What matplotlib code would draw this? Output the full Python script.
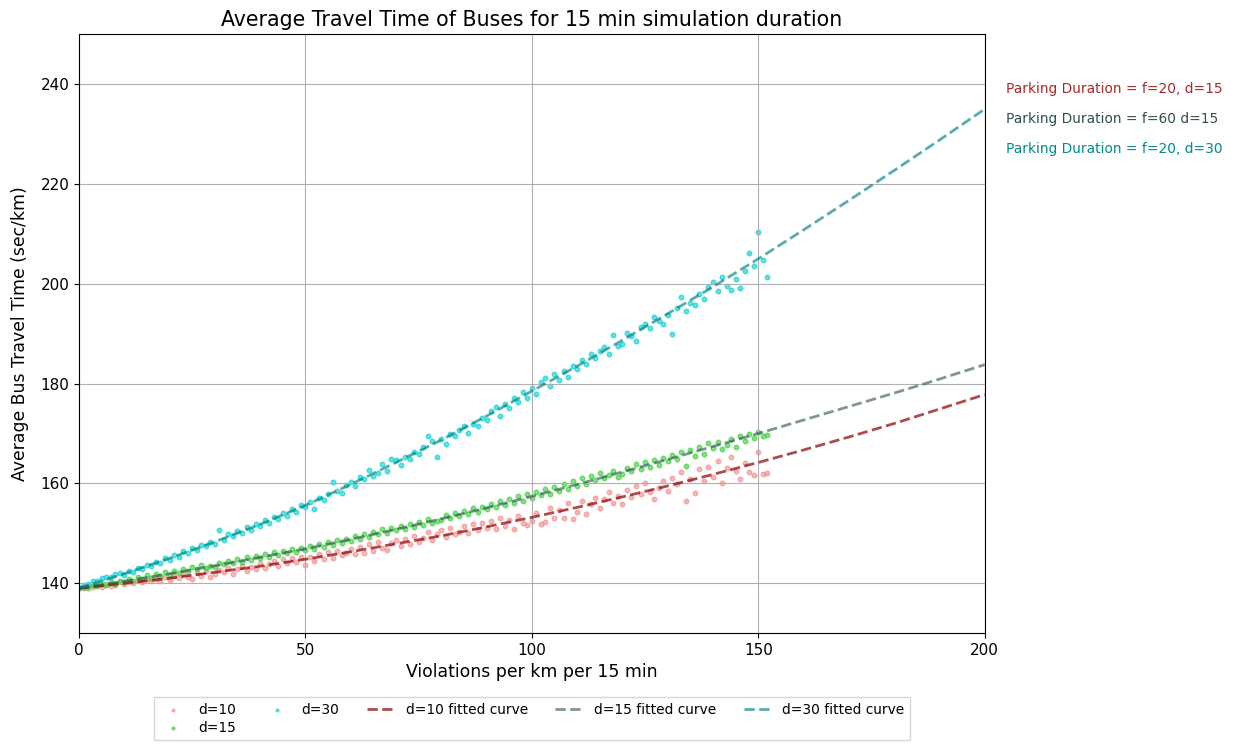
import matplotlib
matplotlib.use("Agg")
import matplotlib.pyplot as plt

# scatter data: violations per km (x) and average bus travel time (sec/km)
violations = list(range(0, 153))

time_d10 = [
    139.1, 139.0, 139.4, 139.2, 139.6, 139.3, 139.9, 139.5, 139.7, 140.2,
    139.8, 140.3, 140.1, 140.6, 140.2, 140.8, 140.4, 140.9, 140.5, 141.2,
    140.7, 141.4, 141.0, 141.8, 141.3, 140.9, 142.1, 141.5, 142.4, 141.2,
    141.8, 142.6, 142.2, 143.0, 141.9, 142.8, 143.5, 142.5, 143.2, 142.9,
    144.0, 143.1, 143.8, 144.4, 143.5, 144.9, 144.1, 145.0, 144.3, 145.3,
    143.6, 145.2, 144.5, 145.9, 144.9, 146.3, 145.0, 146.4, 145.6, 146.0,
    146.8, 145.8, 147.2, 146.1, 147.9, 146.5, 148.3, 147.0, 146.6, 148.0,
    148.6, 147.4, 148.9, 147.8, 149.5, 148.2, 149.0, 150.2, 148.6, 149.8,
    150.6, 149.2, 151.0, 149.8, 150.3, 151.4, 150.0, 151.8, 150.7, 152.0,
    151.0, 152.4, 150.8, 153.0, 151.5, 152.6, 150.9, 153.5, 152.1, 151.7,
    152.5, 154.1, 151.9, 152.3, 155.0, 153.1, 154.6, 153.0, 156.0, 152.8,
    154.3, 156.4, 153.9, 155.8, 157.0, 155.1, 156.9, 158.3, 156.0, 157.5,
    155.9, 158.6, 157.2, 159.5, 157.8, 160.0, 158.2, 156.9, 159.1, 160.4,
    158.5, 161.0, 159.8, 162.3, 156.5, 160.9, 158.1, 162.8, 160.4, 163.2,
    161.3, 164.5, 160.0, 163.0, 165.2, 162.5, 160.8, 164.0, 162.3, 161.6,
    166.2, 161.8, 162.1,
]

time_d15 = [
    139.0, 139.3, 139.1, 139.6, 139.4, 139.9, 139.7, 140.3, 139.8, 140.5,
    140.2, 140.8, 140.5, 141.2, 140.9, 141.6, 141.1, 141.9, 141.4, 142.2,
    141.7, 142.5, 142.0, 142.9, 142.4, 143.2, 142.8, 143.6, 143.0, 143.5,
    143.3, 144.1, 143.8, 144.5, 144.0, 144.9, 144.3, 145.2, 144.7, 145.5,
    145.0, 145.8, 145.3, 146.2, 145.7, 146.5, 146.0, 146.9, 146.3, 147.1,
    146.6, 147.4, 146.8, 147.9, 147.3, 148.2, 147.6, 148.7, 148.1, 148.9,
    148.5, 149.4, 148.9, 149.9, 149.3, 150.3, 149.8, 150.8, 150.1, 151.0,
    150.6, 151.5, 150.9, 151.9, 151.3, 152.3, 151.7, 152.8, 152.1, 152.5,
    152.7, 153.6, 153.0, 154.1, 153.4, 154.5, 153.9, 155.0, 154.3, 155.3,
    154.8, 155.9, 155.2, 156.4, 155.6, 156.9, 156.0, 157.5, 156.4, 157.8,
    157.0, 158.3, 157.6, 158.8, 157.9, 159.2, 158.5, 159.9, 158.9, 160.4,
    159.5, 161.0, 159.9, 161.4, 160.6, 162.0, 161.1, 161.6, 162.5, 161.3,
    161.9, 163.1, 162.4, 163.8, 162.8, 164.2, 163.3, 164.7, 163.6, 165.0,
    164.4, 165.6, 164.9, 166.2, 163.4, 166.7, 165.4, 167.3, 165.9, 168.1,
    167.0, 168.2, 166.8, 167.6, 168.9, 167.2, 169.4, 168.5, 169.9, 169.0,
    170.3, 169.6, 169.8,
]

time_d30 = [
    139.2, 139.6, 139.9, 140.4, 140.5, 141.0, 141.3, 141.2, 141.8, 142.0,
    141.6, 142.5, 142.2, 143.1, 142.9, 143.7, 143.4, 144.3, 144.0, 145.0,
    144.6, 145.6, 145.3, 146.4, 146.0, 147.0, 146.6, 147.7, 147.4, 148.2,
    147.9, 150.6, 148.6, 149.8, 149.4, 150.5, 150.0, 151.2, 150.7, 151.9,
    151.5, 152.6, 152.1, 153.3, 152.8, 154.1, 153.5, 154.9, 154.2, 155.6,
    155.3, 156.2, 154.9, 157.1, 156.6, 157.9, 160.2, 158.4, 158.1, 159.6,
    160.2, 159.4, 161.3, 160.8, 162.6, 161.5, 162.1, 163.9, 162.4, 164.8,
    164.7, 163.6, 165.3, 164.9, 166.2, 165.8, 167.3, 169.6, 168.5, 165.2,
    168.9, 167.8, 169.9, 169.4, 170.8, 171.6, 170.2, 172.0, 171.5, 173.2,
    172.8, 174.6, 175.3, 173.5, 176.0, 175.2, 177.1, 176.4, 178.3, 177.2,
    179.1, 178.0, 180.3, 181.2, 179.6, 182.0, 180.8, 182.5, 181.4, 183.6,
    182.9, 184.8, 184.0, 185.9, 185.2, 186.6, 187.4, 186.0, 189.8, 187.6,
    188.0, 190.1, 189.5, 188.6, 191.4, 192.0, 191.2, 193.4, 192.6, 192.0,
    193.7, 189.9, 195.1, 197.3, 194.6, 196.2, 195.8, 197.9, 196.9, 199.4,
    200.4, 198.6, 201.3, 199.6, 198.7, 201.0, 199.2, 202.5, 206.2, 203.6,
    210.4, 204.7, 201.3,
]

# fitted curves, every 10 violations
fit_x = [0, 10, 20, 30, 40, 50, 60, 70, 80, 90, 100,
         110, 120, 130, 140, 150, 160, 170, 180, 190, 200]
fit_d10 = [139.0, 140.0, 141.0, 142.2, 143.4, 144.8, 146.3, 147.9, 149.5, 151.3, 153.2,
           155.2, 157.3, 159.5, 161.8, 164.2, 166.7, 169.3, 172.0, 174.9, 177.8]
fit_d15 = [139.0, 140.4, 141.9, 143.5, 145.2, 146.9, 148.8, 150.8, 152.9, 155.1, 157.4,
           159.8, 162.3, 164.8, 167.4, 170.0, 172.7, 175.4, 178.1, 180.9, 183.8]
fit_d30 = [139.0, 141.9, 145.0, 148.3, 151.8, 155.6, 159.8, 164.2, 168.7, 173.5, 178.5,
           183.5, 188.7, 194.0, 199.4, 205.0, 210.8, 216.7, 222.7, 228.8, 235.0]

notes = ["Parking Duration = f=20, d=15",
         "Parking Duration = f=60 d=15",
         "Parking Duration = f=20, d=30"]

fig = plt.figure(figsize=(12.34, 7.44), dpi=100)
ax = fig.add_subplot(111)
fig.subplots_adjust(left=0.064, right=0.798, top=0.954, bottom=0.149)

ax.scatter(violations, time_d10, s=11, color='lightcoral', alpha=0.55, label='d=10')
ax.scatter(violations, time_d15, s=11, color='limegreen', alpha=0.6, label='d=15')
ax.scatter(violations, time_d30, s=11, color='darkturquoise', alpha=0.6, label='d=30')

ax.plot(fit_x, fit_d10, '--', color='darkred', alpha=0.7, linewidth=2, label='d=10 fitted curve')
ax.plot(fit_x, fit_d15, '--', color='darkslategray', alpha=0.6, linewidth=2, label='d=15 fitted curve')
ax.plot(fit_x, fit_d30, '--', color='teal', alpha=0.65, linewidth=2, label='d=30 fitted curve')

# annotations on the right of the plot
note_colors = ['brown', 'darkslategray', 'darkcyan']
note_y = [239, 233, 227]
for txt, c, yy in zip(notes, note_colors, note_y):
    ax.text(204.8, yy, txt, color=c, fontsize=9.9, va='center', clip_on=False)

ax.set_xlim(0, 200)
ax.set_ylim(130, 250)
ax.set_xticks([0, 50, 100, 150, 200])
ax.set_yticks([140, 160, 180, 200, 220, 240])
ax.grid(True)
ax.tick_params(labelsize=11)

ax.set_xlabel("Violations per km per 15 min", fontsize=12.4)
ax.set_ylabel("Average Bus Travel Time (sec/km)", fontsize=12.4, labelpad=8)
ax.set_title("Average Travel Time of Buses for 15 min simulation duration", fontsize=14.8)

ax.legend(loc='upper center', bbox_to_anchor=(0.5, -0.1), ncol=5, fontsize=9.9,
          fancybox=False, markerscale=0.6, labelspacing=0.3, borderaxespad=0.3)

plt.savefig("out.png", dpi=100)
